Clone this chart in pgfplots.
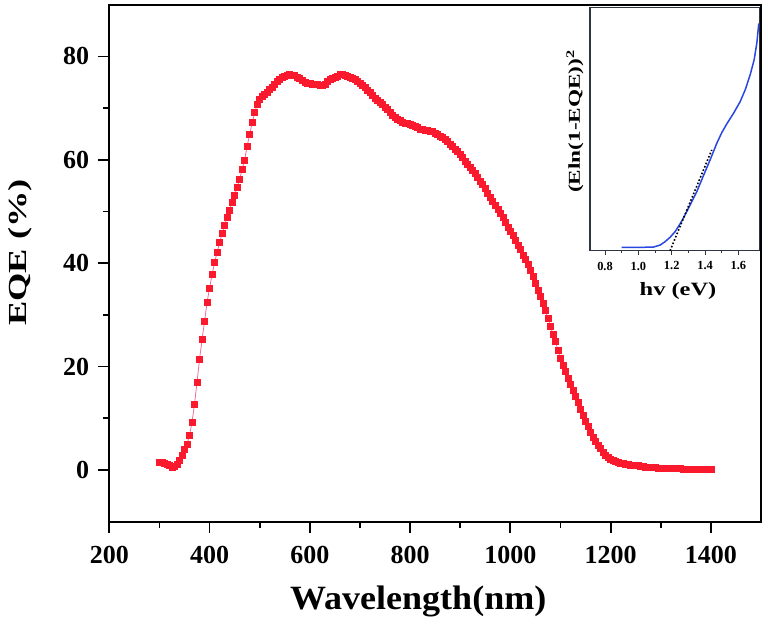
\documentclass[border=0pt]{standalone}
\usepackage{fontspec}
\setmainfont{Liberation Serif}
\usepackage{graphicx}
\usepackage{pgfplots}
\usepackage{pgfplotstable}
\pgfplotsset{compat=1.18}
\definecolor{eqered}{RGB}{250,25,45}
\definecolor{eqeline}{RGB}{235,110,160}
\definecolor{insetblue}{RGB}{40,70,225}
\definecolor{framegray}{RGB}{45,55,65}
\pgfplotstableread{
x y
300 1.5
305 1.4
310 1.2
315 1.0
320 0.8
325 0.6
330 0.7
335 1.1
340 1.8
345 2.8
350 3.9
355 5.0
360 6.7
365 9.2
370 12.7
375 17.0
380 21.4
385 25.2
390 28.7
395 32.4
400 35.2
405 37.8
410 40.1
415 42.1
420 44.0
425 45.7
430 47.3
435 48.8
440 50.3
445 51.8
450 53.2
455 54.7
460 56.3
465 58.1
470 60.0
475 62.7
480 64.9
485 67.2
490 69.1
495 70.7
500 71.8
505 72.3
510 72.6
515 73.1
520 73.6
525 74.1
530 74.6
535 75.1
540 75.5
545 75.9
550 76.2
555 76.4
560 76.5
565 76.4
570 76.3
575 76.0
580 75.7
585 75.3
590 75.0
595 74.9
600 74.8
605 74.7
610 74.7
615 74.6
620 74.5
625 74.4
630 74.7
635 75.1
640 75.5
645 75.8
650 76.0
655 76.2
660 76.5
665 76.5
670 76.4
675 76.1
680 75.9
685 75.7
690 75.5
695 75.2
700 74.9
705 74.5
710 74.0
715 73.5
720 73.0
725 72.5
730 72.0
735 71.6
740 71.2
745 70.7
750 70.2
755 69.7
760 69.2
765 68.7
770 68.2
775 67.9
780 67.6
785 67.3
790 67.1
795 67.0
800 66.8
805 66.6
810 66.4
815 66.2
820 66.0
825 65.9
830 65.8
835 65.7
840 65.6
845 65.5
850 65.2
855 64.9
860 64.6
865 64.3
870 64.0
875 63.6
880 63.1
885 62.6
890 62.1
895 61.6
900 61.0
905 60.4
910 59.8
915 59.2
920 58.6
925 58.0
930 57.3
935 56.6
940 55.9
945 55.2
950 54.4
955 53.6
960 52.8
965 52.0
970 51.2
975 50.4
980 49.6
985 48.8
990 47.9
995 47.0
1000 46.2
1005 45.3
1010 44.4
1015 43.5
1020 42.6
1025 41.6
1030 40.7
1035 39.7
1040 38.6
1045 37.4
1050 36.1
1055 34.8
1060 33.6
1065 32.3
1070 30.8
1075 29.3
1080 27.8
1085 26.3
1090 24.8
1095 23.2
1100 21.6
1105 20.3
1110 19.0
1115 17.8
1120 16.6
1125 15.4
1130 14.2
1135 13.0
1140 11.8
1145 10.6
1150 9.5
1155 8.4
1160 7.3
1165 6.4
1170 5.6
1175 4.8
1180 4.1
1185 3.4
1190 2.9
1195 2.5
1200 2.1
1205 1.8
1210 1.6
1215 1.4
1220 1.3
1225 1.2
1230 1.1
1235 1.0
1240 0.95
1245 0.9
1250 0.85
1255 0.8
1260 0.75
1265 0.68
1270 0.6
1275 0.55
1280 0.5
1285 0.46
1290 0.42
1295 0.39
1300 0.36
1305 0.34
1310 0.32
1315 0.3
1320 0.28
1325 0.26
1330 0.25
1335 0.23
1340 0.22
1345 0.21
1350 0.2
1355 0.19
1360 0.18
1365 0.17
1370 0.16
1375 0.15
1380 0.14
1385 0.13
1390 0.12
1395 0.11
1400 0.1
}\eqedata
\pgfplotstableread{
x y
0.90 0.014
0.97 0.014
1.03 0.014
1.09 0.015
1.13 0.023
1.16 0.037
1.19 0.055
1.22 0.078
1.25 0.110
1.28 0.147
1.31 0.188
1.35 0.242
1.39 0.308
1.43 0.373
1.47 0.441
1.50 0.485
1.53 0.521
1.57 0.564
1.61 0.612
1.64 0.660
1.67 0.722
1.694 0.784
1.71 0.852
1.722 0.934
}\insetdata
\begin{document}
\begin{tikzpicture}
\path[use as bounding box] (-54.65pt,-52.7pt) rectangle (329.35pt,260.8pt);
\begin{axis}[
  at={(0,0)}, anchor=south west,
  scale only axis, width=325.85pt, height=258.4pt,
  xmin=200, xmax=1500, ymin=-10, ymax=90,
  xtick={200,400,...,1400}, ytick={0,20,...,80},
  minor x tick num=1, minor y tick num=1,
  axis line style={line width=1pt, black},
  every tick/.style={black, line width=0.9pt},
  tick align=outside, xtick pos=bottom, ytick pos=left,
  major tick length=5.5pt, minor tick length=3pt,
  /pgf/number format/assume math mode=true,
  /pgf/number format/1000 sep={},
  tick label style={font=\fontsize{13}{14}\selectfont\bfseries},
  xticklabel style={yshift=-3.5pt},
  yticklabel style={xshift=-1pt},
  xlabel={\scalebox{1.06}[1]{Wavelength(nm)}}, ylabel={\scalebox{1.4}[1]{EQE (\%)}},
  xlabel style={font=\fontsize{17}{19}\selectfont\bfseries, at={(axis description cs:0.474,-0.155)}, anchor=center},
  ylabel style={font=\fontsize{13}{15}\selectfont\bfseries, at={(axis description cs:-0.137,0.521)}, anchor=center},
]
\addplot[color=eqeline, line width=0.4pt, mark=square*, mark size=1.5pt,
  mark options={fill=eqered, draw=eqered, line width=0.3pt}] table[x=x,y=y] {\eqedata};
\end{axis}
\begin{axis}[
  at={(240.35pt,135.45pt)}, anchor=south west,
  scale only axis, width=84.65pt, height=121.7pt,
  xmin=0.71, xmax=1.725, ymin=0, ymax=1,
  xtick={0.8,1.0,...,1.6}, ytick=\empty,
  minor x tick num=1,
  axis background/.style={fill=white},
  axis line style={line width=0.6pt, framegray},
  every tick/.style={framegray, line width=0.5pt},
  tick align=outside, xtick pos=bottom,
  major tick length=2pt, minor tick length=1.2pt,
  /pgf/number format/assume math mode=true,
  xticklabel style={font=\fontsize{6.2}{7}\selectfont\bfseries, /pgf/number format/.cd, fixed, fixed zerofill, precision=1},
  xlabel={\scalebox{1.3}[1]{hv (eV)}}, ylabel={\scalebox{1.4}[1]{(Eln(1-EQE))\textsuperscript{2}}},
  xlabel style={font=\fontsize{9.4}{11}\selectfont\bfseries, at={(axis description cs:0.52,-0.165)}, anchor=center},
  ylabel style={font=\fontsize{8.3}{10}\selectfont\bfseries, at={(axis description cs:-0.089,0.533)}, anchor=center},
]
\addplot[color=insetblue, line width=0.75pt] table[x=x,y=y] {\insetdata};
\addplot[black, line width=0.8pt, densely dotted] coordinates {(1.19,0) (1.44,0.414)};
\end{axis}
\end{tikzpicture}
\end{document}
